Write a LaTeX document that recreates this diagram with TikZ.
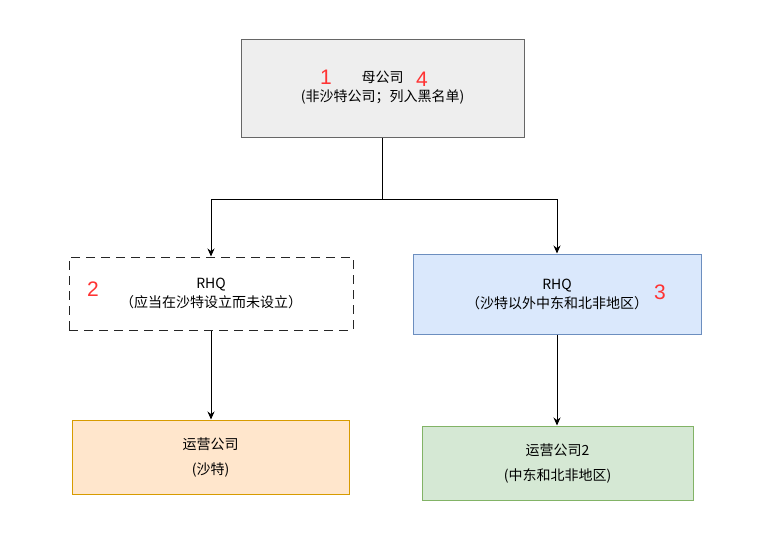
\documentclass[tikz,border=0pt]{standalone}
\usepackage{fontspec}
\newfontfamily\cjk{Noto Sans CJK SC}
\newfontfamily\numfont{Liberation Sans}
\usetikzlibrary{math,arrows.meta}
\definecolor{parentfill}{HTML}{EEEEEE}
\definecolor{parentline}{HTML}{666666}
\definecolor{bluefill}{HTML}{DAE8FC}
\definecolor{blueline}{HTML}{6C8EBF}
\definecolor{orangefill}{HTML}{FFE6CC}
\definecolor{orangeline}{HTML}{D79B00}
\definecolor{greenfill}{HTML}{D5E8D4}
\definecolor{greenline}{HTML}{82B366}
\definecolor{numred}{HTML}{FF3333}

\begin{document}
\begin{tikzpicture}[x=1pt, y=-1pt, >={Stealth[length=8pt,width=7pt]},
    box/.style={draw, line width=1pt, align=center, inner sep=0pt,
        font=\cjk\fontsize{14}{19}\selectfont},
    opbox/.style={box, font=\cjk\fontsize{14}{25}\selectfont},
    num/.style={text=numred, inner sep=0pt, font=\numfont\fontsize{21}{21}\selectfont},
    link/.style={->, line width=1pt}]
    \tikzmath{\midY = 199;}
    \useasboundingbox (0,0) rectangle (784,541);

    % parent company
    \node[box, fill=parentfill, draw=parentline, minimum width=283pt, minimum height=98pt]
        (parent) at (382.5,88) {母公司\\(非沙特公司；列入黑名单)};
    \node[num] (n1) at (326,77) {1};
    \node[num] (n4) at (422,79) {4};

    % regional headquarters
    \node[box, dash pattern=on 9pt off 6pt, draw=black!85, minimum width=284pt, minimum height=73pt]
        (rhqL) at (211,293.5) {RHQ\\（应当在沙特设立而未设立）};
    \node[num] (n2) at (93,289) {2};
    \node[box, fill=bluefill, draw=blueline, minimum width=288pt, minimum height=80pt]
        (rhqR) at (557,294) {RHQ\\（沙特以外中东和北非地区）};
    \node[num] (n3) at (660,292) {3};

    % operating companies
    \node[opbox, fill=orangefill, draw=orangeline, minimum width=277pt, minimum height=74pt]
        (opL) at (210.5,457) {运营公司\\(沙特)};
    \node[opbox, fill=greenfill, draw=greenline, minimum width=271pt, minimum height=74pt]
        (opR) at (557.5,463) {运营公司2\\(中东和北非地区)};

    \coordinate (split) at (382.5,\midY);
    \draw[line width=1pt] (parent.south)--(split);
    \draw[link] (split) -| (rhqL.north);
    \draw[link] (split) -| (rhqR.north);
    \draw[link] (rhqL.south)--(rhqL.south |- opL.north);
    \draw[link] (rhqR.south)--(rhqR.south |- opR.north);
\end{tikzpicture}
\end{document}
